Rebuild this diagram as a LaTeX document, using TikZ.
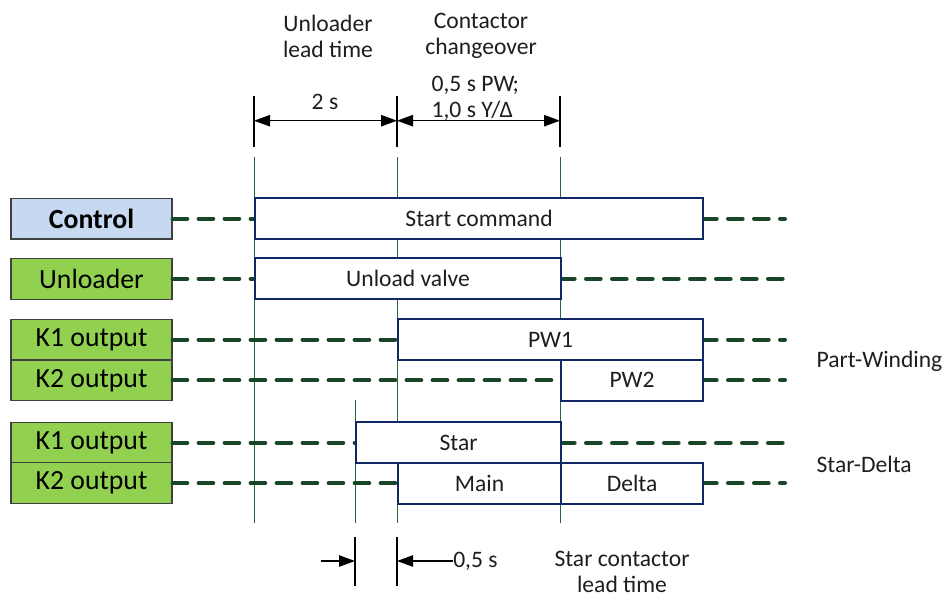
\documentclass[tikz,border=0pt]{standalone}
\usepackage{fontspec}
\setmainfont{Carlito}
\usetikzlibrary{positioning,arrows.meta}

\definecolor{ctrlblue}{RGB}{198,217,241}
\definecolor{unlgreen}{RGB}{146,208,80}
\definecolor{boxgray}{RGB}{64,64,64}
\definecolor{sigblue}{RGB}{16,40,100}
\definecolor{wiregreen}{RGB}{25,70,40}
\definecolor{guidegreen}{RGB}{40,100,60}
\definecolor{txtgray}{RGB}{30,30,30}

\tikzset{
  lbl/.style={draw=boxgray, line width=0.9pt, fill=unlgreen, minimum width=120.75pt,
    minimum height=30.6pt, inner sep=0pt, font=\fontsize{20.8}{24}\selectfont},
  sig/.style={draw=sigblue, line width=1.6pt, fill=white, minimum height=30.6pt,
    inner sep=0pt, anchor=west, font=\fontsize{17.7}{21}\selectfont, text=txtgray},
  wire/.style={draw=wiregreen, line width=3pt, line cap=round, dash pattern=on 11pt off 8.5pt},
  guide/.style={draw=guidegreen, line width=0.6pt},
  tick/.style={draw=black, line width=1.1pt},
  dim/.style={tick, >={Triangle[length=12pt,width=8.5pt]}},
  txt/.style={inner sep=1pt, text=txtgray, font=\fontsize{17.7}{19.5}\selectfont}
}

\begin{document}
\begin{tikzpicture}[x=0.75pt, y=-0.75pt]
  \useasboundingbox (0,0) rectangle (945,597);

  % time marks
  \foreach \x in {254,397,560} {
    \draw[tick] (\x,96) -- (\x,147);
    \draw[guide] (\x,157) -- (\x,523);
  }
  \draw[guide] (355,400) -- (355,523);
  \foreach \x in {355,397}
    \draw[tick] (\x,537) -- (\x,586);

  % signal names
  \node[lbl, fill=ctrlblue] (ctrl) at (91.5,218.5) {\textbf{Control}};
  \node[lbl] (unl) at (91.5,278.7) {Unloader};
  \node[lbl] (kpw1) at (91.5,339.5) {K1 output};
  \node[lbl] (kpw2) at (91.5,380.3) {K2 output};
  \node[lbl] (ksd1) at (91.5,442.8) {K1 output};
  \node[lbl] (ksd2) at (91.5,483.2) {K2 output};

  % free ends of the wires
  \foreach \n/\y in {1/218.5,2/278.7,3/339.5,4/380.3,5/442.8,6/483.2}
    \coordinate (end\n) at (785,\y);

  % wires
  \draw[wire] (ctrl.east) -- (254,218.5);
  \draw[wire] (unl.east) -- (254,278.7);
  \draw[wire] (kpw1.east) -- (397,339.5);
  \draw[wire] (kpw2.east) -- (560,380.3);
  \draw[wire] (ksd1.east) -- (355,442.8);
  \draw[wire] (ksd2.east) -- (397,483.2);
  \draw[wire] (702,218.5) -- (end1);
  \draw[wire] (560,278.7) -- (end2);
  \draw[wire] (702,339.5) -- (end3);
  \draw[wire] (702,380.3) -- (end4);
  \draw[wire] (560,442.8) -- (end5);
  \draw[wire] (702,483.2) -- (end6);

  % signal boxes
  \node[sig, minimum width=336pt] (start) at (254,218.5) {Start command};
  \node[sig, minimum width=229.5pt] (valve) at (254,278.7) {Unload valve};
  \node[sig, minimum width=228.75pt] (pw1) at (397,339.5) {PW1};
  \node[sig, minimum width=106.5pt] (pw2) at (560,380.3) {PW2};
  \node[sig, minimum width=153.75pt] (star) at (355,442.8) {Star};
  \node[sig, minimum width=122.25pt] (main) at (397,483.2) {Main};
  \node[sig, minimum width=106.5pt] (delta) at (560,483.2) {Delta};

  % top labels
  \node[txt, align=center] (ulead) at (328,36) {Unloader\\lead time};
  \node[txt, align=center] (chg) at (481,36) {Contactor\\changeover};
  \node[txt, align=left, anchor=west] (chgtime) at (430,98) {0,5 s PW;\\1,0 s Y/Δ};
  \node[txt] (ultime) at (325,102) {2 s};

  \coordinate (d0) at (254,120.7);
  \coordinate (d1) at (397,120.7);
  \coordinate (d2) at (560,120.7);
  \draw[dim, <->] (d0) -- (d1);
  \draw[dim, <->] (d1) -- (d2);

  % bottom labels
  \node[txt, anchor=west, inner sep=0pt] (sdtime) at (453,561) {0,5 s};
  \node[txt, align=center, inner sep=0pt] (slead) at (622,571.5) {Star contactor\\lead time};
  \coordinate (b0) at (320.5,561);
  \coordinate (b1) at (355,561);
  \coordinate (b2) at (397,561);
  \draw[dim, ->] (b0) -- (b1);
  \draw[dim, ->] (sdtime.west) -- (b2);

  % starting methods
  \node[txt, anchor=west] (pwname) at (815,361.5) {Part-Winding};
  \node[txt, anchor=west] (sdname) at (815,464) {Star-Delta};
\end{tikzpicture}
\end{document}
